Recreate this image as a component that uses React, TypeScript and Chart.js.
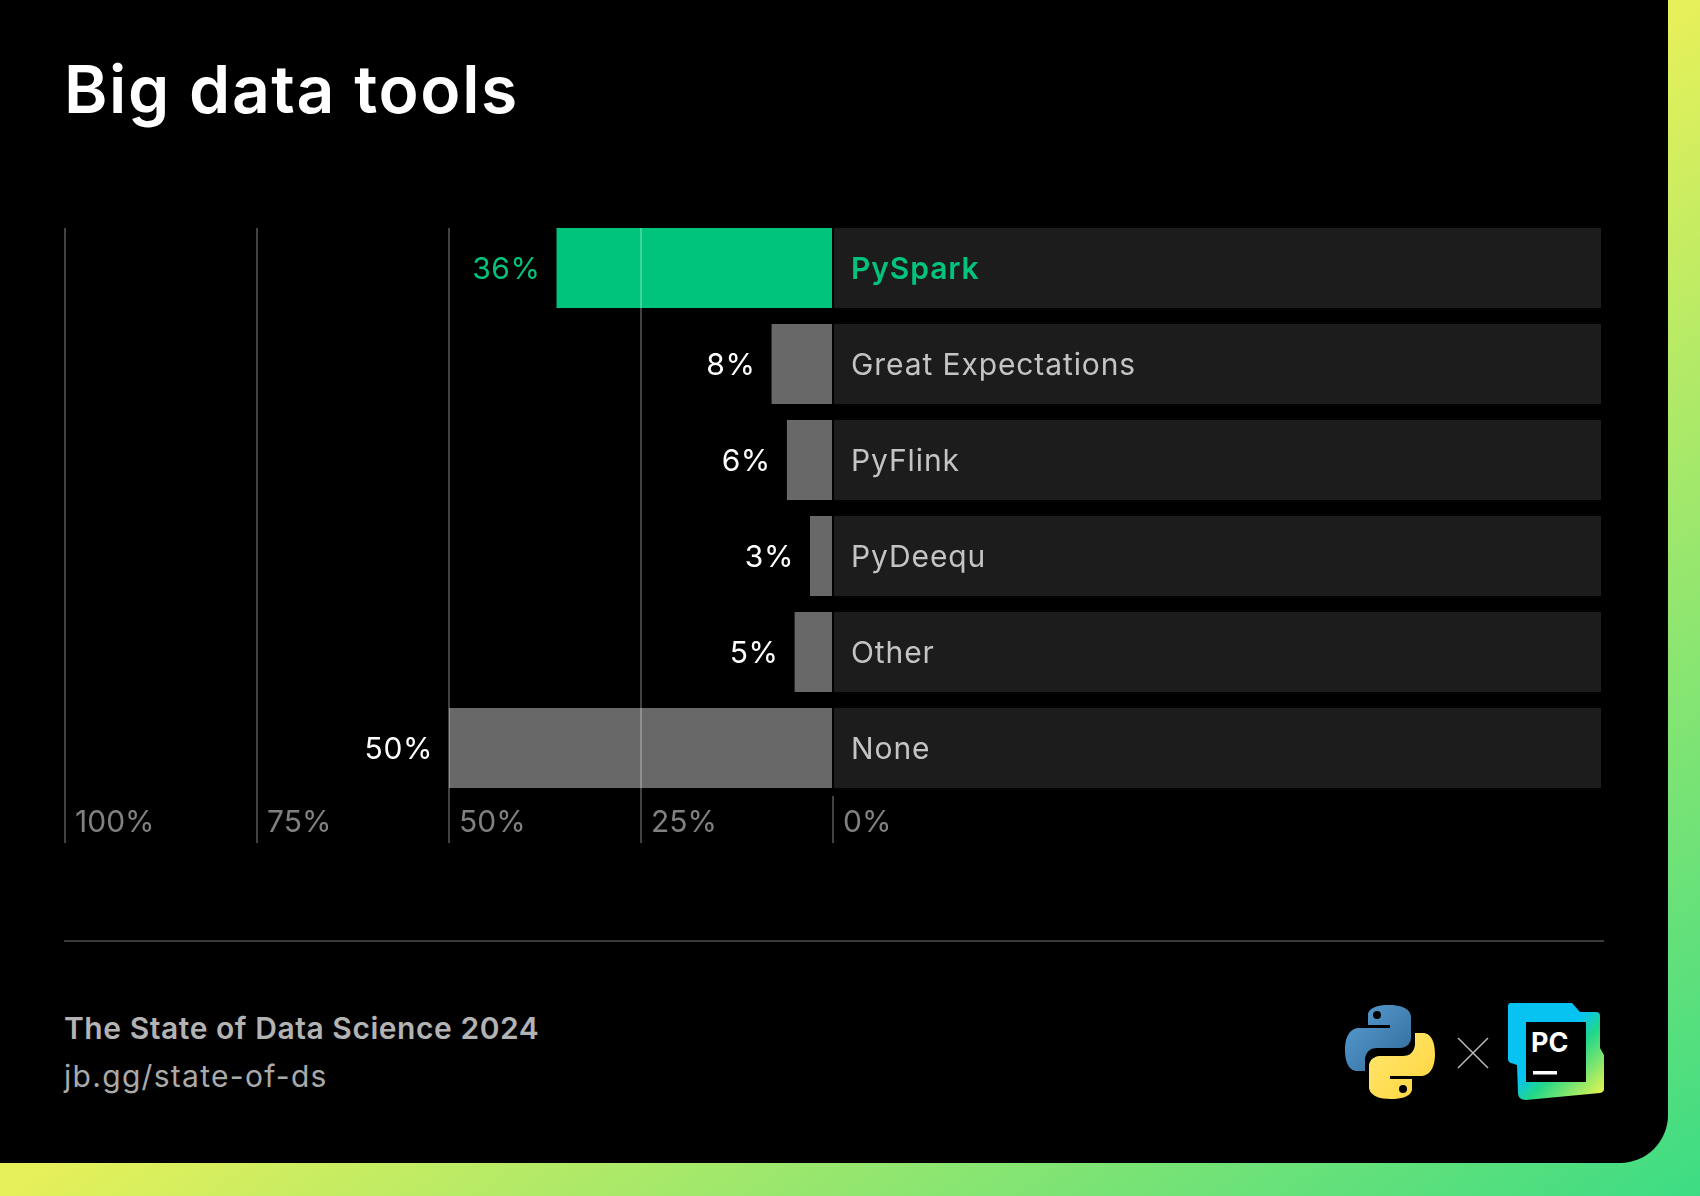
import React, { useEffect, useRef } from "react";
import { Chart, registerables } from "chart.js";

Chart.register(...registerables);

// ---- data ----
const categories = ["PySpark", "Great Expectations", "PyFlink", "PyDeequ", "Other", "None"];
const shares = [36, 8, 6, 3, 5, 50];
const track = [100, 100, 100, 100, 100, 100];
const highlighted = ["PySpark"];
const axisMin = -100;
const axisMax = 100;
const axisStep = 25;

// ---- styles ----
const GREEN = "#00c47c";
const BAR_GRAY = "#686868";
const TRACK = "#1c1c1c";
const GRID = "rgba(255,255,255,0.26)";
const FONT = "Inter, 'Noto Sans', sans-serif";

const labelsPlugin = {
  id: "rowLabels",
  beforeDraw(chart: any) {
    const meta = chart.getDatasetMeta(1);
    const first = meta.data[0];
    const ctx = chart.ctx;
    ctx.save();
    if (!first) return;
    const { y, height } = first.getProps(["y", "height"], true);
    ctx.beginPath();
    ctx.rect(0, Math.round(y - height / 2), chart.width, chart.height);
    ctx.clip();
  },
  afterDraw(chart: any) {
    const ctx = chart.ctx;
    ctx.restore();
    const meta = chart.getDatasetMeta(1);
    ctx.save();
    meta.data.forEach((bar: any, i: number) => {
      const { x, y, base } = bar.getProps(["x", "y", "base"], true);
      const hi = highlighted.includes(categories[i]);
      const left = Math.min(x, base);
      const zero = Math.max(x, base);
      ctx.textBaseline = "alphabetic";
      (ctx as any).letterSpacing = "0.6px";
      ctx.font = `400 30px ${FONT}`;
      ctx.textAlign = "right";
      ctx.fillStyle = hi ? GREEN : "#ffffff";
      ctx.fillText(`${shares[i]}%`, left - 16, y + 11);
      ctx.textAlign = "left";
      (ctx as any).letterSpacing = "0.9px";
      ctx.font = `${hi ? 600 : 400} 30px ${FONT}`;
      ctx.fillStyle = hi ? GREEN : "#c4c4c4";
      ctx.fillText(categories[i], zero + 19, y + 11);
    });
    (ctx as any).letterSpacing = "0px";
    ctx.restore();
  },
};

function ChartCanvas() {
  const ref = useRef<HTMLCanvasElement | null>(null);
  useEffect(() => {
    let chart: Chart | null = null;
    let cancelled = false;
    const make = () => {
      if (cancelled || !ref.current) return;
      chart = new Chart(ref.current, {
        type: "bar",
        data: {
          labels: categories,
          datasets: [
            {
              label: "track",
              data: track,
              backgroundColor: TRACK,
              borderWidth: 0,
              barPercentage: 80 / 96,
              categoryPercentage: 1,
            },
            {
              label: "share",
              data: shares.map((v) => -v),
              backgroundColor: categories.map((c) => (highlighted.includes(c) ? GREEN : BAR_GRAY)),
              borderWidth: 0,
              barPercentage: 80 / 96,
              categoryPercentage: 1,
            },
          ],
        },
        options: {
          indexAxis: "y",
          animation: false,
          responsive: false,
          devicePixelRatio: 1,
          layout: { padding: { left: 65, right: 67, top: 220, bottom: 57 } },
          plugins: { legend: { display: false }, tooltip: { enabled: false } },
          scales: {
            x: {
              type: "linear",
              min: axisMin,
              max: axisMax,
              stacked: true,
              border: { display: false },
              afterFit: (scale: any) => {
                scale.height = 47;
              },
              grid: {
                z: 1,
                lineWidth: 2,
                tickLength: 47,
                drawTicks: true,
                color: (c: any) => (c.tick && c.tick.value < 0 ? GRID : "transparent"),
                tickColor: (c: any) => (c.tick && c.tick.value <= 0 ? GRID : "transparent"),
              },
              ticks: {
                z: 1,
                stepSize: axisStep,
                autoSkip: false,
                maxRotation: 0,
                align: "start",
                labelOffset: 10,
                padding: -38,
                color: "#808080",
                font: { family: FONT, size: 30, weight: "400" },
                callback: (v: any) => (Number(v) <= 0 ? `${Math.abs(Number(v))}%` : ""),
              },
            },
            y: {
              type: "category",
              stacked: true,
              display: false,
              grid: { display: false },
            },
          },
        },
        plugins: [labelsPlugin],
      } as any);
    };
    if ((document as any).fonts && (document as any).fonts.load) {
      Promise.all([
        (document as any).fonts.load(`400 30px Inter`),
        (document as any).fonts.load(`600 30px Inter`),
      ]).then(make, make);
    } else {
      make();
    }
    return () => {
      cancelled = true;
      if (chart) chart.destroy();
    };
  }, []);
  return (
    <canvas
      ref={ref}
      width={1668}
      height={900}
      style={{ position: "absolute", left: 0, top: 0, width: 1668, height: 900 }}
    />
  );
}

function PythonLogo() {
  const blue =
    "M49 5 C27 5 28 15 28 15 L28 25 L50 25 L50 28 L19 28 C19 28 5 27 5 50 C5 72 17 71 17 71 L25 71 L25 60 C25 60 25 48 37 48 L60 48 C60 48 71 48 71 37 L71 17 C71 17 72 5 49 5 Z";
  return (
    <svg width={94} height={96} viewBox="4 4 92 96" style={{ position: "absolute", left: 1343, top: 1004 }}>
      <defs>
        <linearGradient id="pyb" x1="0" y1="0" x2="1" y2="1">
          <stop offset="0" stopColor="#5a9fd4" />
          <stop offset="1" stopColor="#306998" />
        </linearGradient>
        <linearGradient id="pyy" x1="0" y1="0" x2="1" y2="1">
          <stop offset="0" stopColor="#ffd43b" />
          <stop offset="1" stopColor="#ffe873" />
        </linearGradient>
      </defs>
      <path d={blue} fill="url(#pyb)" />
      <circle cx={37} cy={15} r={4} fill="#000" />
      <g transform="rotate(180 50 52)">
        <path d={blue} fill="url(#pyy)" />
        <circle cx={37} cy={15} r={4} fill="#000" />
      </g>
    </svg>
  );
}

function PCLogo() {
  return (
    <svg width={96} height={97} viewBox="0 0 96 97" style={{ position: "absolute", left: 1508, top: 1003 }}>
      <defs>
        <linearGradient id="pcg" x1="0" y1="0" x2="1" y2="1">
          <stop offset="0" stopColor="#07c3f2" />
          <stop offset="0.45" stopColor="#07c3f2" />
          <stop offset="0.6" stopColor="#21d789" />
          <stop offset="1" stopColor="#fcf84a" />
        </linearGradient>
      </defs>
      <path d="M3 0 L64 0 L72 9 L88 9 Q92 9 92 13 L92 45 L96 52 L96 86 Q96 89 92 90 L18 97 Q10 97 10 90 L9 62 L3 60 Q0 59 0 56 L0 3 Q0 0 3 0 Z" fill="url(#pcg)" />
      <rect x={18} y={19} width={60} height={60} fill="#000" />
      <text x={23} y={49} fill="#fff" fontFamily="Inter, sans-serif" fontWeight={700} fontSize={27}>PC</text>
      <rect x={25} y={68} width={24} height={3.5} fill="#fff" />
    </svg>
  );
}

export default function App() {
  useEffect(() => {
    document.body.style.margin = "0";
    document.body.style.background = "#000";
  }, []);
  return (
    <div
      style={{
        position: "relative",
        width: 1700,
        height: 1196,
        overflow: "hidden",
        background: "linear-gradient(to bottom right, #f7f24a 0%, #e6f05a 50%, #3ddc84 100%)",
        fontFamily: FONT,
      }}
    >
      <div
        style={{
          position: "absolute",
          left: 0,
          top: 0,
          width: 1668,
          height: 1163,
          background: "#000",
          borderBottomRightRadius: 48,
          overflow: "hidden",
        }}
      >
        <div
          style={{
            position: "absolute",
            left: 64,
            top: 56,
            fontSize: 66,
            lineHeight: 1,
            fontWeight: 600,
            color: "#fff",
            whiteSpace: "nowrap",
            letterSpacing: 1.6,
          }}
        >
          Big data tools
        </div>
        <ChartCanvas />
        <div style={{ position: "absolute", left: 64, top: 940, width: 1540, height: 2, background: "#3a3a3a" }} />
        <div
          style={{
            position: "absolute",
            left: 64,
            top: 1013,
            fontSize: 30,
            lineHeight: 1,
            fontWeight: 600,
            color: "#b3b3b3",
            whiteSpace: "nowrap",
            letterSpacing: 0.55,
          }}
        >
          The State of Data Science 2024
        </div>
        <div
          style={{
            position: "absolute",
            left: 64,
            top: 1061,
            fontSize: 30,
            lineHeight: 1,
            fontWeight: 400,
            color: "#aaaaaa",
            whiteSpace: "nowrap",
            letterSpacing: 1.3,
          }}
        >
          jb.gg/state-of-ds
        </div>
        <PythonLogo />
        <svg width={32} height={32} style={{ position: "absolute", left: 1457, top: 1037 }}>
          <line x1={1} y1={1} x2={31} y2={31} stroke="#bdbdbd" strokeWidth={1.5} />
          <line x1={31} y1={1} x2={1} y2={31} stroke="#bdbdbd" strokeWidth={1.5} />
        </svg>
        <PCLogo />
      </div>
    </div>
  );
}
